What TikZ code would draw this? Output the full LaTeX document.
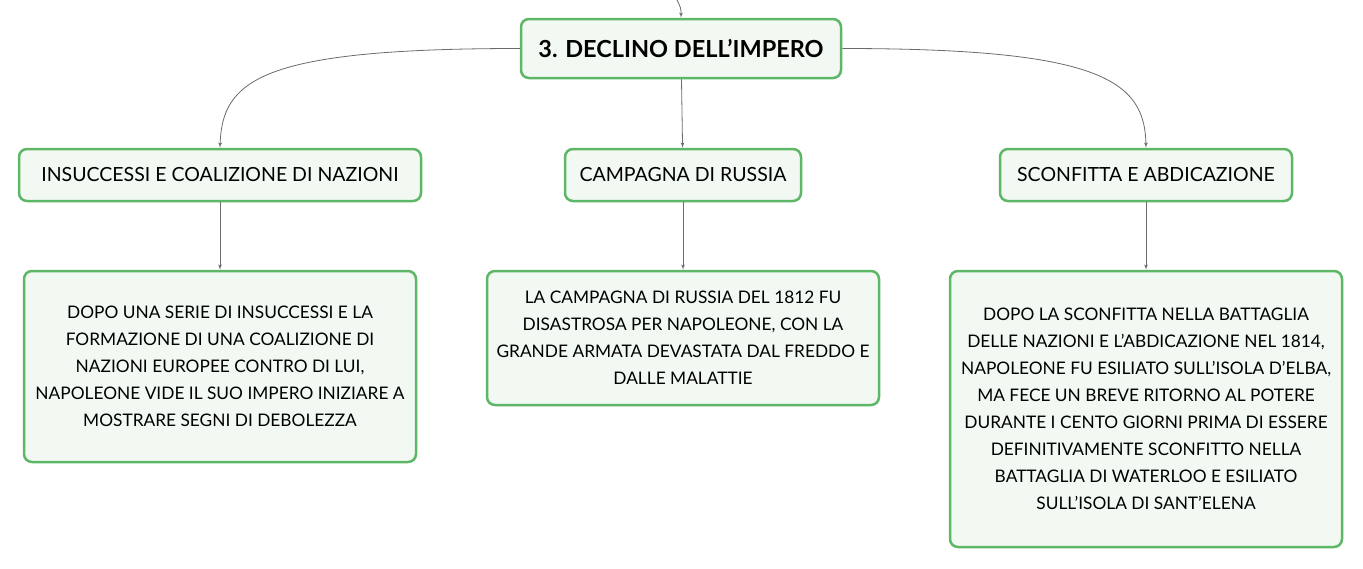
\documentclass[tikz,border=0pt]{standalone}
\usepackage{fontspec}
\setmainfont{Lato}
\usetikzlibrary{shapes,arrows,positioning}
\definecolor{bordo}{HTML}{5DB766}
\definecolor{fondo}{HTML}{F2F9F3}
\definecolor{linea}{HTML}{6B6B6B}
\tikzstyle{titolo} = [rectangle, draw=bordo, fill=fondo, line width=2.5pt,
    rounded corners=8pt, minimum width=320pt, minimum height=59pt, font=\fontsize{23.5}{27}\selectfont\bfseries]
\tikzstyle{ramo} = [rectangle, draw=bordo, fill=fondo, line width=2.5pt,
    rounded corners=8pt, minimum height=52pt, font=\fontsize{19.5}{23}\selectfont]
\tikzstyle{testo} = [rectangle, draw=bordo, fill=fondo, line width=2.5pt,
    rounded corners=8pt, minimum width=392pt, align=center, font=\fontsize{17.3}{27}\selectfont]
\tikzstyle{line} = [draw=linea, line width=0.8pt, -latex']

\begin{document}
\begin{tikzpicture}[x=1pt, y=-1pt]
    \useasboundingbox (0,0) rectangle (1363,568);
    % Place nodes
    \node [titolo] (tit) at (681,48.5) {3. DECLINO DELL'IMPERO};
    \coordinate (su) at (676,-2);
    \node [ramo, minimum width=402pt] (ins) at (220,175) {INSUCCESSI E COALIZIONE DI NAZIONI};
    \node [ramo, minimum width=236pt] (rus) at (683,175) {CAMPAGNA DI RUSSIA};
    \node [ramo, minimum width=292pt] (sco) at (1146,175) {SCONFITTA E ABDICAZIONE};
    \node [testo, minimum height=191pt, below=67.5pt of ins] (ins2) {DOPO UNA SERIE DI INSUCCESSI E LA\\ FORMAZIONE DI UNA COALIZIONE DI\\ NAZIONI EUROPEE CONTRO DI LUI,\\ NAPOLEONE VIDE IL SUO IMPERO INIZIARE A\\ MOSTRARE SEGNI DI DEBOLEZZA};
    \node [testo, minimum height=134pt, below=67.5pt of rus] (rus2) {LA CAMPAGNA DI RUSSIA DEL 1812 FU\\ DISASTROSA PER NAPOLEONE, CON LA\\ GRANDE ARMATA DEVASTATA DAL FREDDO E\\ DALLE MALATTIE};
    \node [testo, minimum height=276pt, below=67.5pt of sco] (sco2) {DOPO LA SCONFITTA NELLA BATTAGLIA\\ DELLE NAZIONI E L'ABDICAZIONE NEL 1814,\\ NAPOLEONE FU ESILIATO SULL'ISOLA D'ELBA,\\ MA FECE UN BREVE RITORNO AL POTERE\\ DURANTE I CENTO GIORNI PRIMA DI ESSERE\\ DEFINITIVAMENTE SCONFITTO NELLA\\ BATTAGLIA DI WATERLOO E ESILIATO\\ SULL'ISOLA DI SANT'ELENA};

    % Draw edges
    \path [line] (su) .. controls (681,8) .. (tit.north);
    \path [line] (tit.west) .. controls (260,48.5) and (222,80) .. (ins.north);
    \path [line] (tit.east) .. controls (1100,48.5) and (1145,80) .. (sco.north);
    \path [line] (tit) -- (rus);
    \path [line] (ins) -- (ins2);
    \path [line] (rus) -- (rus2);
    \path [line] (sco) -- (sco2);
\end{tikzpicture}
\end{document}
